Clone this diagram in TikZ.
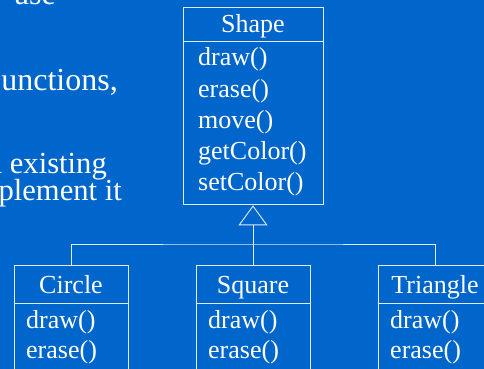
\documentclass[tikz,border=0pt]{standalone}
\usepackage{fontspec}
\setmainfont{Liberation Serif}
\usetikzlibrary{arrows.meta}
\definecolor{slideblue}{RGB}{0,102,204}
\definecolor{umlline}{RGB}{225,235,250}
\tikzset{
  classhead/.style={draw=umlline,line width=0.9pt,inner sep=0pt,text=white,
    font=\fontsize{26}{31}\selectfont},
  classbody/.style={draw=umlline,line width=0.9pt,inner sep=0pt,anchor=north},
  method/.style={anchor=base west,inner sep=0pt,text=white,font=\fontsize{26}{31}\selectfont},
  slidetext/.style={anchor=base east,inner sep=0pt,text=white},
  inherit/.style={draw=umlline,line width=0.9pt,-{Triangle[open,length=20pt,width=29pt]}}
}

\begin{document}
\begin{tikzpicture}[x=1pt,y=1pt]

    % Define the column centres of the classes
    \def\xbase{253}    % Shape and Square
    \def\xcirc{71}     % Circle
    \def\xtri{435}     % Triangle
    \def\ybus{-244}    % height of the inheritance bus

    % -- Slide background --
    \useasboundingbox (0,0) rectangle (484,-369);
    \clip (0,0) rectangle (484,-369);
    \fill[slideblue] (0,0) rectangle (484,-369);

    % -- Bullet text, cut at the left edge of the slide --
    \node[slidetext,font=\fontsize{32}{38}\selectfont] (txtbase) at (56,-5) {ase};
    \node[slidetext,font=\fontsize{32}{38}\selectfont] (txtfunc) at (118,-90) {unctions,};
    \node[slidetext,font=\fontsize{30.6}{36}\selectfont] (txtexist) at (107,-173) {n existing};
    \node[slidetext,font=\fontsize{30.6}{36}\selectfont] (txtimpl) at (122,-200) {plement it};

    % -- Base class Shape --
    \node[classhead,minimum width=140pt,minimum height=34pt,text height=26pt,text depth=8pt]
      (shapehead) at (\xbase,-24) {Shape};
    \node[classbody,minimum width=140pt,minimum height=163pt] (shapebody) at (shapehead.south) {};
    \node[method] (shapedraw) at (198,-66) {draw()};
    \node[method] (shapeerase) at (198,-97) {erase()};
    \node[method] (shapemove) at (198,-128) {move()};
    \node[method] (shapeget) at (198,-159) {getColor()};
    \node[method] (shapeset) at (198,-190) {setColor()};

    % -- Derived classes (bodies run off the bottom of the slide) --
    \node[classhead,minimum width=114pt,minimum height=38pt,text height=28pt,text depth=10pt]
      (circhead) at (\xcirc,-284) {Circle};
    \node[classbody,minimum width=114pt,minimum height=80pt] (circbody) at (circhead.south) {};
    \node[method] (circdraw) at (26,-328) {draw()};
    \node[method] (circerase) at (26,-358) {erase()};

    \node[classhead,minimum width=114pt,minimum height=38pt,text height=28pt,text depth=10pt]
      (sqhead) at (\xbase,-284) {Square};
    \node[classbody,minimum width=114pt,minimum height=80pt] (sqbody) at (sqhead.south) {};
    \node[method] (sqdraw) at (208,-328) {draw()};
    \node[method] (sqerase) at (208,-358) {erase()};

    \node[classhead,minimum width=114pt,minimum height=38pt,text height=28pt,text depth=10pt]
      (trihead) at (\xtri,-284) {Triangle};
    \node[classbody,minimum width=114pt,minimum height=80pt] (tribody) at (trihead.south) {};
    \node[method] (tridraw) at (390,-328) {draw()};
    \node[method] (trierase) at (390,-358) {erase()};

    % -- Inheritance: bus line and open triangle --
    \coordinate (bus) at (\xbase,\ybus);
    \draw[draw=umlline,line width=0.9pt] (circhead.north) |- (bus) -| (trihead.north);
    \draw[inherit] (sqhead.north) -- (shapebody.south);

\end{tikzpicture}
\end{document}
